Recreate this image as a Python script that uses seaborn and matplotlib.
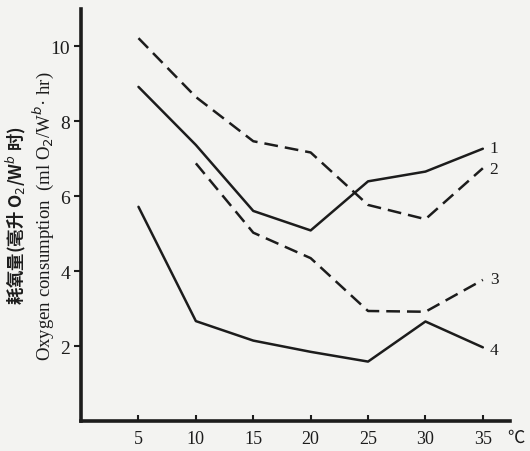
"""
耗氧量与温度关系曲线 (Oxygen consumption vs temperature)
"""
import numpy as np
import pandas as pd
import matplotlib
matplotlib.use('Agg')
import matplotlib.pyplot as plt
import seaborn as sns

# 数据
temps = [5, 10, 15, 20, 25, 30, 35]
curve1 = [8.92, 7.37, 5.61, 5.09, 6.40, 6.66, 7.27]
curve2 = [10.22, 8.65, 7.47, 7.17, 5.77, 5.39, 6.75]
temps3 = [10, 15, 20, 25, 30, 35]
curve3 = [6.88, 5.03, 4.35, 2.94, 2.92, 3.77]
curve4 = [5.72, 2.67, 2.15, 1.85, 1.59, 2.66, 1.97]
curve_names = ['1', '2', '3', '4']
label_y = [7.30, 6.72, 3.80, 1.90]

ink = '#1c1c1c'
paper = '#f3f3f1'

sns.set_theme(style='ticks')
plt.rcParams['font.family'] = ['Liberation Serif', 'Noto Sans CJK SC', 'DejaVu Sans']

fig = plt.figure(figsize=(5.30, 4.52), dpi=100, facecolor=paper)
ax = fig.add_axes([0.153, 0.066, 0.810, 0.912])
ax.set_facecolor(paper)

dash = (0, (5.5, 2.8))
series = [
    (temps, curve1, '-'),
    (temps, curve2, dash),
    (temps3, curve3, dash),
    (temps, curve4, '-'),
]
for (xs, ys, ls), name in zip(series, curve_names):
    df = pd.DataFrame({'temp': xs, 'o2': ys})
    sns.lineplot(data=df, x='temp', y='o2', ax=ax, color=ink,
                 linewidth=1.8, linestyle=ls)

for name, yv in zip(curve_names, label_y):
    ax.text(35.6, yv, name, ha='left', va='center', fontsize=12.5, color=ink)

ax.set_xlim(0, 37.4)
ax.set_ylim(0, 11.0)
ax.set_xticks(temps)
ax.set_yticks([2, 4, 6, 8, 10])
ax.tick_params(axis='x', direction='in', length=4, width=1.5, labelsize=13,
               colors=ink, pad=6)
ax.tick_params(axis='y', direction='out', length=5, width=1.5, labelsize=14,
               colors=ink, pad=3)
for s in ['top', 'right']:
    ax.spines[s].set_visible(False)
for s in ['left', 'bottom']:
    ax.spines[s].set_linewidth(2.6)
    ax.spines[s].set_color(ink)

ax.set_xlabel('')
ax.set_ylabel('')

# 单位
ax.text(37.9, -0.42, '℃', ha='center', va='center', fontsize=12.5, color=ink,
        family=['Noto Sans CJK SC', 'DejaVu Sans'])

# 纵轴标题 (中英两行)
fig.text(0.030, 0.522, '耗氧量(毫升 O$_2$/W$^b$ 时)', rotation=90,
         ha='center', va='center', fontsize=12.5, fontweight='bold', color=ink,
         family=['Noto Sans CJK SC', 'DejaVu Sans'])
fig.text(0.082, 0.522, 'Oxygen consumption  (ml O$_2$/W$^b$· hr)', rotation=90,
         ha='center', va='center', fontsize=13.5, color=ink)

fig.savefig('out.png', dpi=100, facecolor=paper)
